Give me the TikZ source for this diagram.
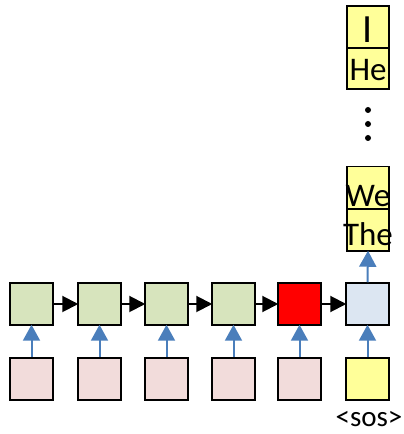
\documentclass[tikz,border=0pt]{standalone}
\usepackage{fontspec}
\setmainfont{Carlito}
\usetikzlibrary{arrows.meta}
\definecolor{hgreen}{HTML}{D7E4BD}
\definecolor{ipink}{HTML}{F2DCDB}
\definecolor{dblue}{HTML}{DCE6F2}
\definecolor{wyellow}{HTML}{FFFF99}
\definecolor{ablue}{HTML}{4A7EBB}
\tikzset{
  cell/.style={draw=black, line width=1.5pt, minimum width=43pt, minimum height=42pt, inner sep=0pt},
  wcell/.style={draw=black, line width=1.5pt, minimum width=42pt, minimum height=42pt, inner sep=0pt, fill=wyellow},
  harrow/.style={line width=2pt, black, -{Triangle[length=16pt,width=16pt]}, shorten >=-1pt},
  varrow/.style={line width=2pt, ablue, -{Triangle[length=16pt,width=17pt]}, shorten >=-1pt},
  wtxt/.style={inner sep=0pt, anchor=base, font=\fontsize{33}{38}\selectfont},
  dot/.style={circle, fill=black, inner sep=0pt, minimum size=6pt}
}
\begin{document}
\begin{tikzpicture}[x=1pt,y=1pt]
\useasboundingbox (0,0) rectangle (404,434);
% hidden row
\node[cell, fill=hgreen] (h1) at (31.5,130) {};
\node[cell, fill=hgreen] (h2) at (99.5,130) {};
\node[cell, fill=hgreen] (h3) at (166.5,130) {};
\node[cell, fill=hgreen] (h4) at (233.5,130) {};
\node[cell, fill=red] (h5) at (299.5,130) {};
\node[cell, fill=dblue] (h6) at (367.5,130) {};
% input row
\node[cell, fill=ipink] (x1) at (31.5,55) {};
\node[cell, fill=ipink] (x2) at (99.5,55) {};
\node[cell, fill=ipink] (x3) at (166.5,55) {};
\node[cell, fill=ipink] (x4) at (233.5,55) {};
\node[cell, fill=ipink] (x5) at (299.5,55) {};
\node[cell, fill=wyellow] (x6) at (367.5,55) {};
\node[inner sep=0pt, anchor=base, text depth=0pt, font=\fontsize{29}{34}\selectfont] (sos) at (369,7.5) {<sos>};
% arrows
\foreach \a/\b in {h1/h2,h2/h3,h3/h4,h4/h5,h5/h6}{
  \draw[harrow] (\a.east) -- (\b.west);
}
\foreach \i in {1,...,6}{
  \draw[varrow] (x\i.north) -- (h\i.south);
}
% output stacks
\node[wcell] (the) at (368,204) {};
\node[wcell] (we) at (368,246.5) {};
\node[wcell] (he) at (368,366) {};
\node[wcell] (i) at (368,407) {};
\draw[varrow] (h6.north) -- (the.south);
\node[wtxt] (thet) at ([yshift=6pt]the.south) {The};
\node[wtxt] (wet) at ([yshift=3pt]we.south) {We};
\node[wtxt] (het) at ([yshift=9pt]he.south) {He};
\node[wtxt, font=\fontsize{40}{44}\selectfont] (it) at ([yshift=6pt]i.south) {I};
\node[dot] (d1) at (368,324) {};
\node[dot] (d2) at (368,310) {};
\node[dot] (d3) at (368,296) {};
\end{tikzpicture}
\end{document}
